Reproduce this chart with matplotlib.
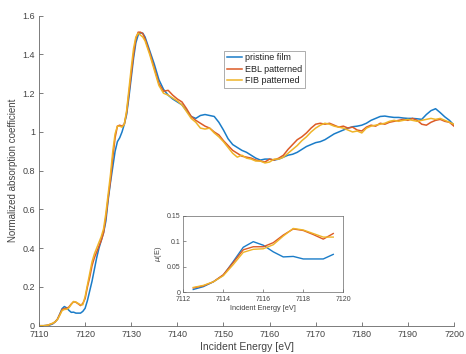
import numpy as np
import matplotlib
matplotlib.use("Agg")
from matplotlib import pyplot as plt

plt.rcParams['font.family'] = ['Liberation Sans', 'DejaVu Sans']

# Energy grid: 0.5 eV steps through the edge, 1 eV steps after it.
energy = np.concatenate([np.arange(7110, 7133.5, 0.5), np.arange(7134, 7201, 1)])

pristine = [
    0, 0, 0, 0.001, 0.002, 0.005, 0.01, 0.02, 0.033, 0.06, 0.088, 0.099, 0.092, 0.079, 0.069, 0.07,
    0.065, 0.065, 0.065, 0.074, 0.09, 0.13, 0.18, 0.23, 0.29, 0.35, 0.40, 0.44, 0.48, 0.54, 0.65, 0.74,
    0.82, 0.90, 0.95, 0.97, 1.00, 1.04, 1.09, 1.18, 1.28, 1.38, 1.46, 1.50, 1.512, 1.51, 1.49,
    1.42, 1.35, 1.27, 1.22, 1.19, 1.17, 1.155, 1.14, 1.11, 1.08, 1.07, 1.085, 1.09, 1.085, 1.08, 1.05,
    1.01, 0.965, 0.935, 0.92, 0.905, 0.895, 0.88, 0.865, 0.855, 0.86, 0.86, 0.855, 0.86, 0.87, 0.88, 0.885,
    0.895, 0.91, 0.925, 0.935, 0.945, 0.95, 0.96, 0.975, 0.99, 1.0, 1.01, 1.02, 1.027, 1.03, 1.035, 1.045,
    1.06, 1.07, 1.08, 1.082, 1.078, 1.075, 1.075, 1.072, 1.07, 1.07, 1.068, 1.065, 1.09, 1.11, 1.12, 1.1,
    1.078, 1.06, 1.035,
]
ebl = [
    0, 0, 0, 0.001, 0.003, 0.008, 0.012, 0.02, 0.034, 0.058, 0.083, 0.089, 0.089, 0.097, 0.112, 0.124,
    0.121, 0.113, 0.104, 0.115, 0.14, 0.2, 0.25, 0.31, 0.35, 0.38, 0.41, 0.44, 0.48, 0.56, 0.66, 0.75,
    0.87, 0.97, 1.03, 1.035, 1.03, 1.04, 1.1, 1.2, 1.3, 1.4, 1.48, 1.515, 1.515, 1.508, 1.48,
    1.41, 1.33, 1.25, 1.21, 1.215, 1.19, 1.17, 1.155, 1.12, 1.08, 1.06, 1.045, 1.03, 1.02, 1.0, 0.985,
    0.955, 0.93, 0.905, 0.89, 0.875, 0.87, 0.865, 0.855, 0.85, 0.845, 0.86, 0.855, 0.865, 0.88, 0.91, 0.935,
    0.96, 0.975, 0.995, 1.02, 1.04, 1.045, 1.04, 1.045, 1.035, 1.025, 1.03, 1.02, 1.025, 1.01, 1.005, 1.025,
    1.035, 1.03, 1.045, 1.04, 1.05, 1.055, 1.06, 1.065, 1.06, 1.07, 1.06, 1.04, 1.035, 1.05, 1.06, 1.065,
    1.055, 1.05, 1.03,
]
fib = [
    0, 0, 0, 0.001, 0.003, 0.009, 0.013, 0.02, 0.032, 0.054, 0.078, 0.084, 0.085, 0.093, 0.11, 0.125,
    0.122, 0.115, 0.108, 0.108, 0.15, 0.21, 0.27, 0.33, 0.37, 0.40, 0.43, 0.46, 0.50, 0.58, 0.68, 0.78,
    0.90, 0.99, 1.03, 1.03, 1.025, 1.04, 1.11, 1.22, 1.33, 1.43, 1.49, 1.51, 1.5, 1.49, 1.47,
    1.40, 1.32, 1.24, 1.2, 1.19, 1.175, 1.16, 1.14, 1.105, 1.07, 1.05, 1.02, 1.015, 1.02, 0.995, 0.975,
    0.95, 0.92, 0.89, 0.87, 0.88, 0.865, 0.86, 0.85, 0.85, 0.84, 0.845, 0.86, 0.86, 0.87, 0.89, 0.91,
    0.93, 0.955, 0.975, 1.0, 1.02, 1.035, 1.045, 1.04, 1.03, 1.025, 1.02, 1.01, 1.0, 1.005, 0.995, 1.02,
    1.03, 1.035, 1.04, 1.045, 1.055, 1.06, 1.055, 1.06, 1.065, 1.06, 1.055, 1.06, 1.065, 1.07, 1.065, 1.07,
    1.06, 1.05, 1.04,
]

# Pre-edge region shown in the inset
inset_energy = [7112.5, 7113, 7113.5, 7114, 7114.5, 7115, 7115.5, 7116, 7116.5, 7117, 7117.5, 7118, 7118.5, 7119, 7119.5]
inset_pristine = [0.005, 0.0105, 0.02, 0.033, 0.06, 0.088, 0.099, 0.092, 0.079, 0.069, 0.07, 0.065, 0.065, 0.065, 0.074]
inset_ebl = [0.008, 0.012, 0.02, 0.034, 0.058, 0.083, 0.089, 0.089, 0.097, 0.112, 0.124, 0.121, 0.113, 0.104, 0.115]
inset_fib = [0.009, 0.013, 0.02, 0.032, 0.054, 0.078, 0.084, 0.085, 0.093, 0.11, 0.125, 0.122, 0.115, 0.108, 0.108]

labels = ['pristine film', 'EBL patterned', 'FIB patterned']
colors = ['#1a7cc8', '#dc5a26', '#efb428']
axis_grey = '#666666'
text_grey = '#444444'

fig = plt.figure(figsize=(4.66, 3.54), dpi=100)
ax = fig.add_axes([0.0837, 0.0799, 0.8906, 0.8757])

for y, lab, c in zip([pristine, ebl, fib], labels, colors):
    ax.plot(energy, y, color=c, lw=1.1, label=lab)

ax.set_xlim(7110, 7200)
ax.set_ylim(0, 1.6)
ax.set_xticks(np.arange(7110, 7201, 10))
ax.set_yticks([0, 0.2, 0.4, 0.6, 0.8, 1, 1.2, 1.4, 1.6])
ax.set_yticklabels(['0', '0.2', '0.4', '0.6', '0.8', '1', '1.2', '1.4', '1.6'])
ax.spines['top'].set_visible(False)
ax.spines['right'].set_visible(False)
for s in ['left', 'bottom']:
    ax.spines[s].set_color(axis_grey)
    ax.spines[s].set_linewidth(0.6)
ax.tick_params(direction='in', length=3, width=0.6, color=axis_grey,
               labelcolor=text_grey, labelsize=6.5, pad=3)
ax.set_xlabel('Incident Energy [eV]', fontsize=7.5, color=text_grey, labelpad=2)
ax.set_ylabel('Normalized absorption coefficient', fontsize=7, color=text_grey, labelpad=3)

leg = ax.legend(loc='upper left', bbox_to_anchor=(0.446, 0.887), fontsize=6.5,
                frameon=True, fancybox=False, handlelength=1.7, handletextpad=0.3,
                borderpad=0.3, labelspacing=0.25, borderaxespad=0)
leg.get_frame().set_edgecolor('#888888')
leg.get_frame().set_linewidth(0.6)
for t in leg.get_texts():
    t.set_color('#222222')

# Inset of the pre-edge
ins = fig.add_axes([0.3933, 0.1751, 0.3433, 0.2155])
for y, c in zip([inset_pristine, inset_ebl, inset_fib], colors):
    ins.plot(inset_energy, y, color=c, lw=1.0)
ins.set_xlim(7112, 7120)
ins.set_ylim(0, 0.15)
ins.set_xticks([7112, 7114, 7116, 7118, 7120])
ins.set_yticks([0, 0.05, 0.1, 0.15])
ins.set_yticklabels(['0', '0.05', '0.1', '0.15'])
for s in ins.spines.values():
    s.set_color(axis_grey)
    s.set_linewidth(0.5)
ins.tick_params(direction='in', length=2, width=0.5, color=axis_grey,
                labelcolor=text_grey, labelsize=5, pad=2)
ins.tick_params(axis='x', pad=3)
ins.set_xlabel('Incident Energy [eV]', fontsize=5.3, color=text_grey, labelpad=1)
ins.set_ylabel(r'$\mu$(E)', fontsize=5.3, color=text_grey, labelpad=2)

fig.savefig('out.png', dpi=100)
